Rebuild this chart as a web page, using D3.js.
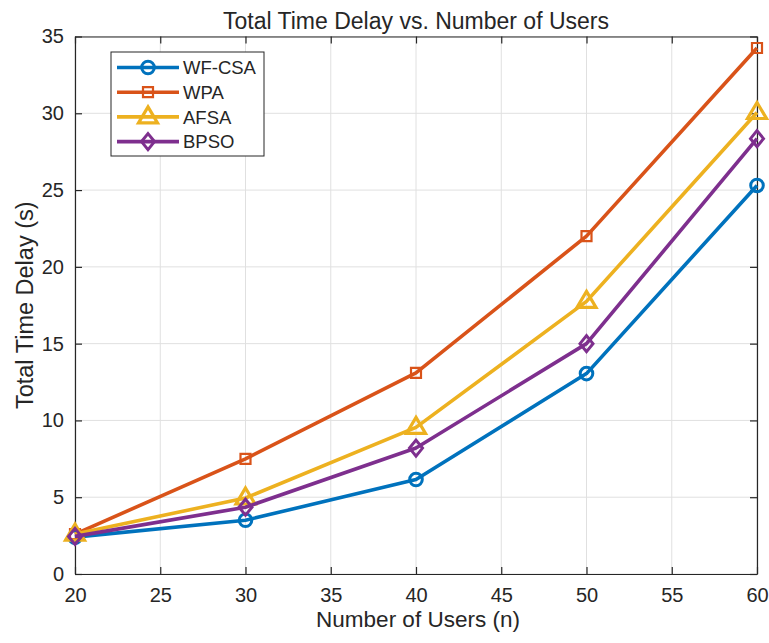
<!DOCTYPE html>
<html><head><meta charset="utf-8">
<script src="https://cdn.jsdelivr.net/npm/d3@7"></script>
<style>body{margin:0;background:#fff}svg{display:block}text{font-family:"Liberation Sans",Arial,sans-serif;fill:#262626}</style>
</head><body>
<svg id="c" width="769" height="643"></svg>
<script>
const users = [20, 30, 40, 50, 60];
const wfcsa = [2.4, 3.5, 6.15, 13.05, 25.3];
const wpa = [2.6, 7.5, 13.1, 22.0, 34.25];
const afsa = [2.6, 4.95, 9.55, 17.75, 30.05];
const bpso = [2.45, 4.35, 8.2, 15.0, 28.35];
const seriesNames = ["WF-CSA", "WPA", "AFSA", "BPSO"];
const xTicks = [20, 25, 30, 35, 40, 45, 50, 55, 60];
const yTicks = [0, 5, 10, 15, 20, 25, 30, 35];

const colors = ["#0072BD", "#D95319", "#EDB120", "#7E2F8E"];
const markers = ["circle", "square", "triangle", "diamond"];
const seriesData = [wfcsa, wpa, afsa, bpso];

const svg = d3.select("#c");
const L = 75, R = 757, T = 36.5, B = 574;
const x = d3.scaleLinear().domain([20, 60]).range([L, R]);
const y = d3.scaleLinear().domain([0, 35]).range([B, T]);

// grid
const g = svg.append("g");
g.selectAll(".gx").data(xTicks).enter().append("line")
  .attr("x1", d => x(d)).attr("x2", d => x(d)).attr("y1", T).attr("y2", B)
  .attr("stroke", "#e0e0e0").attr("stroke-width", 1);
g.selectAll(".gy").data(yTicks).enter().append("line")
  .attr("y1", d => y(d)).attr("y2", d => y(d)).attr("x1", L).attr("x2", R)
  .attr("stroke", "#e0e0e0").attr("stroke-width", 1);

// axes
const tickLen = 7;
const axB = d3.axisBottom(x).tickValues(xTicks).tickSizeInner(-tickLen).tickSizeOuter(0).tickPadding(14);
const axT = d3.axisTop(x).tickValues(xTicks).tickSizeInner(-tickLen).tickSizeOuter(0).tickFormat("");
const axL = d3.axisLeft(y).tickValues(yTicks).tickSizeInner(-tickLen).tickSizeOuter(0).tickPadding(11);
const axR = d3.axisRight(y).tickValues(yTicks).tickSizeInner(-tickLen).tickSizeOuter(0).tickFormat("");
function style(sel){
  sel.selectAll("path").attr("stroke", "#262626").attr("stroke-width", 1.2);
  sel.selectAll("line").attr("stroke", "#262626").attr("stroke-width", 1.2);
  sel.selectAll("text").attr("font-size", 20).attr("fill", "#262626").style("font-family", "'Liberation Sans', Arial, sans-serif");
}
svg.append("g").attr("transform", `translate(0,${B})`).call(axB).call(style);
svg.append("g").attr("transform", `translate(0,${T})`).call(axT).call(style);
svg.append("g").attr("transform", `translate(${L},0)`).call(axL).call(style);
svg.append("g").attr("transform", `translate(${R},0)`).call(axR).call(style);

// markers
function markerPath(type){
  if (type === "circle") return d3.symbol().type(d3.symbolCircle).size(Math.PI * 6.3 * 6.3)();
  if (type === "square") return "M-5,-5H5V5H-5Z";
  if (type === "triangle") return "M0,-10L9.5,6H-9.5Z";
  if (type === "diamond") return "M0,-8L6.5,0L0,8L-6.5,0Z";
}
const mStroke = {circle: 3, square: 2.2, triangle: 3.2, diamond: 3};

const line = d3.line().x((d, i) => x(users[i])).y(d => y(d));
seriesData.forEach((vals, si) => {
  const sg = svg.append("g");
  sg.append("path").datum(vals).attr("d", line).attr("fill", "none")
    .attr("stroke", colors[si]).attr("stroke-width", 3.6).attr("stroke-linejoin", "round");
  sg.selectAll("path.m").data(vals).enter().append("path").attr("class", "m")
    .attr("d", markerPath(markers[si]))
    .attr("transform", (d, i) => `translate(${x(users[i])},${y(d)})`)
    .attr("fill", "none").attr("stroke", colors[si]).attr("stroke-width", mStroke[markers[si]]);
});

// legend
const lg = svg.append("g");
lg.append("rect").attr("x", 111).attr("y", 52).attr("width", 153).attr("height", 104)
  .attr("fill", "#fff").attr("stroke", "#262626").attr("stroke-width", 1);
seriesNames.forEach((n, i) => {
  const yy = 67.5 + i * 24.7;
  lg.append("line").attr("x1", 117).attr("x2", 179).attr("y1", yy).attr("y2", yy)
    .attr("stroke", colors[i]).attr("stroke-width", 3.6);
  lg.append("path").attr("d", markerPath(markers[i])).attr("transform", `translate(148,${yy})`)
    .attr("fill", "none").attr("stroke", colors[i]).attr("stroke-width", mStroke[markers[i]]);
  lg.append("text").attr("x", 183).attr("y", yy).attr("dy", "0.36em").attr("font-size", 18.5).text(n);
});

// titles
svg.append("text").attr("x", (L + R) / 2).attr("y", 29).attr("text-anchor", "middle")
  .attr("font-size", 23).text("Total Time Delay vs. Number of Users");
svg.append("text").attr("x", (L + R) / 2 + 2).attr("y", 627).attr("text-anchor", "middle")
  .attr("font-size", 22.5).text("Number of Users (n)");
svg.append("text").attr("transform", `translate(33,${(T + B) / 2}) rotate(-90)`).attr("text-anchor", "middle")
  .attr("font-size", 23.5).text("Total Time Delay (s)");
</script>
</body></html>
